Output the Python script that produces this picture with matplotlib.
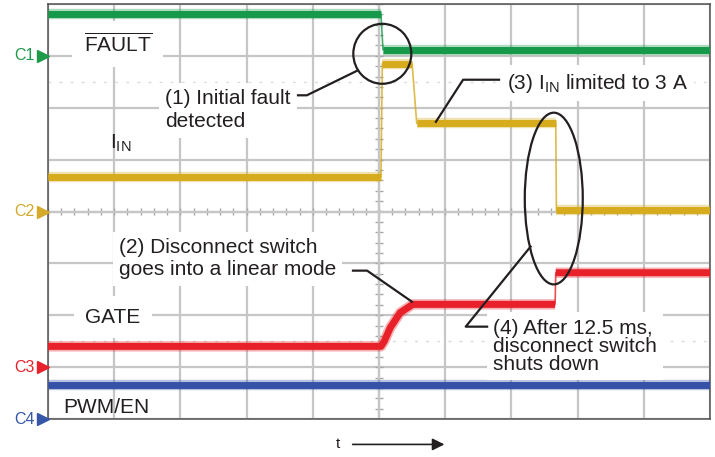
import matplotlib.pyplot as plt
import numpy as np
from matplotlib.patches import Ellipse

plt.rcParams['font.family'] = ['Liberation Sans', 'DejaVu Sans']
plt.rcParams['mathtext.fontset'] = 'custom'
plt.rcParams['mathtext.rm'] = 'Liberation Sans'
plt.rcParams['mathtext.it'] = 'Liberation Sans:italic'
plt.rcParams['mathtext.bf'] = 'Liberation Sans:bold'

# scope traces in divisions (x: 0..10, y: -4..4)
fault_t = [0.0, 5.03, 5.06, 10.0]
fault_v = [3.80, 3.80, 3.12, 3.12]

iin_t = [0.0, 5.03, 5.05, 5.50, 5.57, 7.67, 7.68, 10.0]
iin_v = [0.67, 0.67, 2.85, 2.85, 1.70, 1.70, 0.02, 0.02]

gate_t = [0.0, 5.03, 5.08, 5.17, 5.32, 5.51, 7.66, 7.67, 10.0]
gate_v = [-2.60, -2.60, -2.50, -2.24, -1.95, -1.79, -1.79, -1.18, -1.18]

pwm_t = [0.0, 10.0]
pwm_v = [-3.35, -3.35]

# channel markers on the left edge
ch_names = ['C1', 'C2', 'C3', 'C4']
ch_levels = [3, 0, -3, -4]
ch_colors = ['#1f9a4a', '#d4aa2a', '#e8222c', '#3656a8']

TXT = '#231f20'

fig = plt.figure(figsize=(7.15, 4.57), dpi=100)
ax = fig.add_axes([48/715, 38/457, 662/715, 415/457])
ax.set_xlim(0, 10)
ax.set_ylim(-4, 4)
ax.set_xticks(range(11))
ax.set_yticks(range(-4, 5))
ax.tick_params(length=0, labelbottom=False, labelleft=False)
ax.grid(True, color='#c6c6c6', lw=1.6, zorder=0)
ax.set_axisbelow(True)
for s in ax.spines.values():
    s.set_color('#505050')
    s.set_linewidth(1.1)

# center cross minor ticks
mt = np.arange(0, 10.01, 0.2)
ax.vlines(mt, -0.07, 0.07, color='#a8a8a8', lw=1, zorder=1)
mt = np.arange(-4, 4.01, 0.2)
ax.hlines(mt, 4.94, 5.06, color='#a8a8a8', lw=1, zorder=1)
ax.axhline(0, color='#c6c6c6', lw=1.6, zorder=1)
ax.axvline(5, color='#c6c6c6', lw=1.6, zorder=1)
for yy in (2.5, -2.5):
    ax.axhline(yy, color='#dadada', lw=1, ls=(0, (2, 6)), zorder=1)


def trace(t, v, color):
    t = np.asarray(t, float)
    v = np.asarray(v, float)
    ax.plot(t, v, color=color, lw=1.2, alpha=0.8, zorder=3)
    # keep the fast edges thin, the flat parts and slow ramps thick
    tt, vv = [t[0]], [v[0]]
    for i in range(1, len(t)):
        if abs(v[i] - v[i-1]) > 8 * (t[i] - t[i-1]):
            tt.append(np.nan)
            vv.append(np.nan)
        tt.append(t[i])
        vv.append(v[i])
    ax.plot(tt, vv, color=color, lw=7.5, alpha=0.35, solid_capstyle='butt', zorder=3)
    ax.plot(tt, vv, color=color, lw=5, solid_capstyle='butt', zorder=4)


trace(fault_t, fault_v, '#16994a')
trace(iin_t, iin_v, '#d6ab1e')
trace(gate_t, gate_v, '#e8202a')
trace(pwm_t, pwm_v, '#3552a8')

for name, lvl, c in zip(ch_names, ch_levels, ch_colors):
    ax.text(-0.2, lvl, name, ha='right', va='center', color=c, fontsize=11.5, clip_on=False)
    ax.plot(-0.075, lvl, marker='>', ms=9, color=c, clip_on=False, zorder=6)

box = dict(boxstyle='square,pad=0.3', fc='white', ec='none')
fs = 15

ax.text(0.54, 3.08, r'$\overline{\mathrm{FAULT}}$', fontsize=fs, color=TXT, va='baseline',
        bbox=dict(boxstyle='square,pad=0.55', fc='white', ec='none'), zorder=5)
ax.text(0.94, 1.21, r'I$_{\mathrm{IN}}$', fontsize=fs, color=TXT, va='baseline', zorder=5)
ax.text(0.56, -2.14, 'GATE', fontsize=fs, color=TXT, va='baseline',
        bbox=dict(boxstyle='square,pad=0.55', fc='white', ec='none'), zorder=5)
ax.text(0.23, -3.89, 'PWM/EN', fontsize=fs, color=TXT, va='baseline', zorder=5)

# multi-line texts: y is the baseline of the last line
ax.text(1.77, 1.62, '(1) Initial fault\ndetected', fontsize=fs, color=TXT, va='baseline',
        linespacing=1.29, bbox=box, zorder=5)
ax.text(1.07, -1.23, '(2) Disconnect switch\ngoes into a linear mode', fontsize=fs, color=TXT,
        va='baseline', linespacing=1.23, bbox=box, zorder=5)
ax.text(6.93, 2.37, r'(3) I$_{\mathrm{IN}}$ limited to 3 A', fontsize=fs, color=TXT,
        va='baseline', bbox=box, zorder=5)
ax.text(6.72, -3.06, '(4) After 12.5 ms,\ndisconnect switch\nshuts down', fontsize=fs,
        color=TXT, va='baseline', linespacing=0.95, bbox=box, zorder=5)

# leader lines
lk = dict(color=TXT, lw=1.6, zorder=6, solid_capstyle='butt')
ax.plot([3.76, 3.91, 4.68], [2.24, 2.24, 2.72], **lk)
ax.plot([6.83, 6.27, 5.85], [2.54, 2.54, 1.71], **lk)
ax.plot([4.59, 4.82, 5.51], [-1.14, -1.14, -1.75], **lk)
ax.plot([6.65, 6.31, 7.30], [-2.22, -2.22, -0.66], **lk)

ax.add_patch(Ellipse((5.05, 3.04), 0.876, 1.156, fill=False, ec=TXT, lw=1.6, zorder=6))
ax.add_patch(Ellipse((7.64, 0.25), 0.876, 3.31, fill=False, ec=TXT, lw=1.6, zorder=6))

# time arrow under the screen
ax.text(4.38, -4.49, 't', fontsize=11, color=TXT, ha='center', va='center', clip_on=False)
ax.annotate('', xy=(6.03, -4.49), xytext=(4.56, -4.49),
            arrowprops=dict(arrowstyle='-|>', color=TXT, lw=1.2, mutation_scale=18),
            annotation_clip=False)

fig.savefig('out.png', dpi=100)
